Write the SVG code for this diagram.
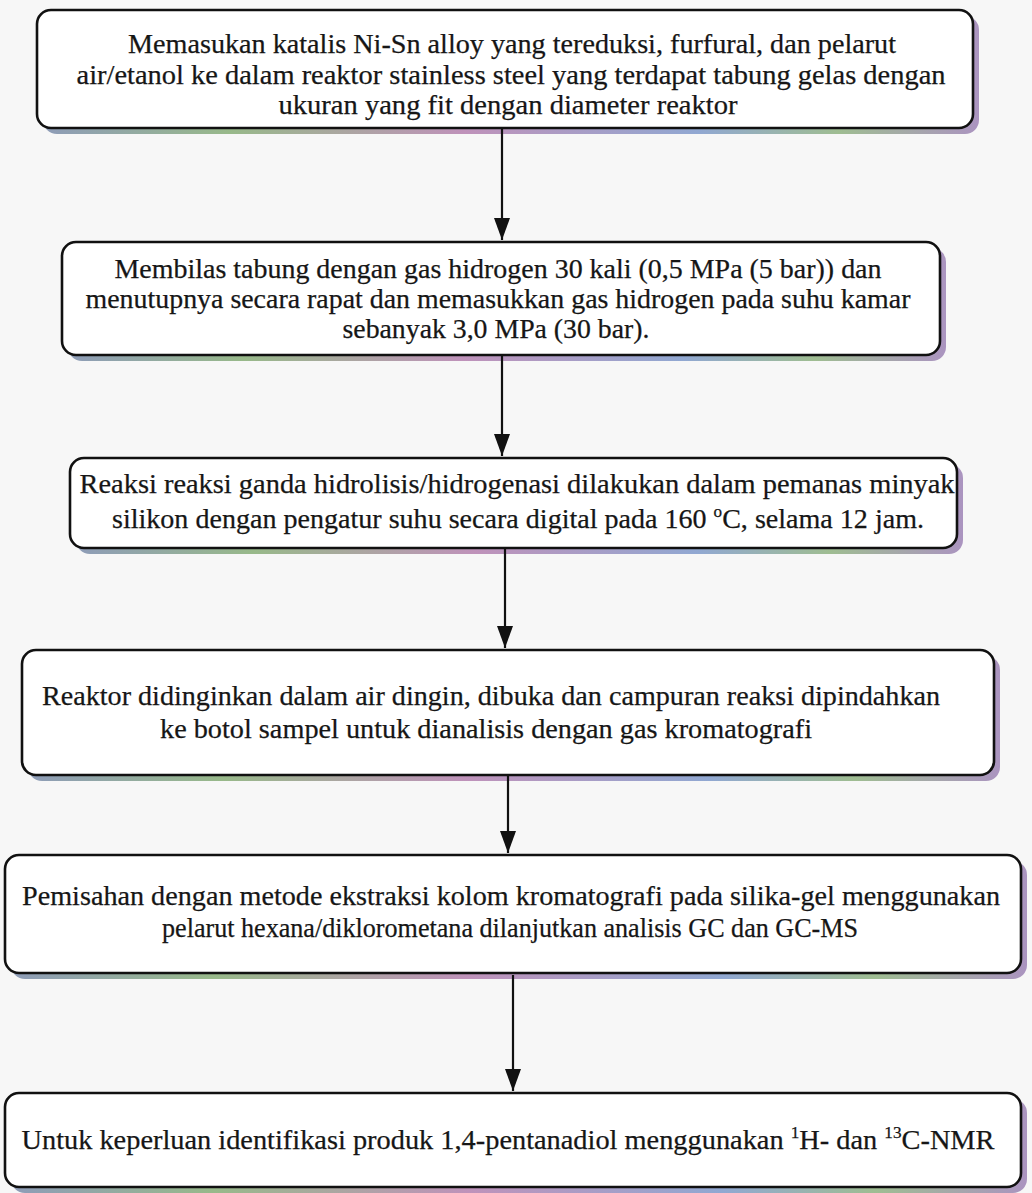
<svg xmlns="http://www.w3.org/2000/svg" width="1032" height="1193" viewBox="0 0 1032 1193">
<style>
.box{fill:#ffffff;stroke:#111111;stroke-width:2.6}
.sh{fill:url(#shg)}
.t{font-family:"Liberation Serif","Times New Roman",serif;font-size:28px;fill:#161616;stroke:#161616;stroke-width:0.25;text-anchor:middle}
.c{font-size:28px}
.conn line{stroke:#111111;stroke-width:2.2}
</style>
<defs>
<linearGradient id="shg" x1="0" y1="0" x2="1" y2="0">
<stop offset="0" stop-color="#8e9cb8"/>
<stop offset="0.2" stop-color="#98b98a"/>
<stop offset="0.45" stop-color="#bf92ba"/>
<stop offset="0.7" stop-color="#91a8d2"/>
<stop offset="0.85" stop-color="#9fbd92"/>
<stop offset="1" stop-color="#ab94c0"/>
</linearGradient>
<marker id="ah" viewBox="0 0 22 16" markerWidth="22" markerHeight="16" refX="22" refY="8" orient="auto" markerUnits="userSpaceOnUse">
<path d="M0,0 L22,8 L0,16 Z" fill="#111111"/>
</marker>
</defs>
<rect width="1032" height="1193" fill="#f7f7f7"/>

<g id="node1">
<rect class="sh" x="43" y="16" width="936" height="118" rx="14"/>
<rect class="box" x="37" y="10" width="936" height="118" rx="14"/>
<text class="t" x="512" y="53" textLength="768" lengthAdjust="spacingAndGlyphs">Memasukan katalis Ni-Sn alloy yang tereduksi, furfural, dan pelarut</text>
<text class="t" x="511" y="84" textLength="869" lengthAdjust="spacingAndGlyphs">air/etanol  ke dalam  reaktor stainless steel yang terdapat tabung gelas dengan</text>
<text class="t" x="508" y="114" textLength="459" lengthAdjust="spacingAndGlyphs">ukuran yang fit dengan diameter reaktor</text>
</g>

<g id="node2">
<rect class="sh" x="68" y="248" width="878" height="113" rx="14"/>
<rect class="box" x="62" y="242" width="878" height="113" rx="14"/>
<text class="t" x="498" y="278" textLength="767" lengthAdjust="spacingAndGlyphs">Membilas tabung dengan gas hidrogen 30 kali (0,5 MPa (5 bar)) dan</text>
<text class="t" x="498" y="308" textLength="825" lengthAdjust="spacingAndGlyphs">menutupnya secara rapat dan memasukkan gas hidrogen pada suhu kamar</text>
<text class="t" x="496" y="338" textLength="307" lengthAdjust="spacingAndGlyphs">sebanyak 3,0 MPa (30 bar).</text>
</g>

<g id="node3">
<rect class="sh" x="76" y="464" width="887" height="90" rx="14"/>
<rect class="box" x="70" y="458" width="887" height="90" rx="14"/>
<text class="t c" x="517" y="493" textLength="875" lengthAdjust="spacingAndGlyphs">Reaksi reaksi ganda hidrolisis/hidrogenasi  dilakukan dalam pemanas minyak</text>
<text class="t c" x="518" y="528" textLength="812" lengthAdjust="spacingAndGlyphs">silikon dengan pengatur suhu secara digital pada 160 <tspan font-size="17" dy="-11">o</tspan><tspan dy="11">C, selama 12 jam.</tspan></text>
</g>

<g id="node4">
<rect class="sh" x="28" y="656" width="972" height="125" rx="14"/>
<rect class="box" x="22" y="650" width="972" height="125" rx="14"/>
<text class="t" x="491" y="705" textLength="898" lengthAdjust="spacingAndGlyphs">Reaktor didinginkan dalam air dingin, dibuka dan campuran reaksi dipindahkan</text>
<text class="t" x="486" y="738" textLength="652" lengthAdjust="spacingAndGlyphs">ke botol sampel untuk dianalisis dengan gas kromatografi</text>
</g>

<g id="node5">
<rect class="sh" x="11" y="861" width="1016" height="118" rx="14"/>
<rect class="box" x="5" y="855" width="1016" height="118" rx="14"/>
<text class="t" x="511" y="905" textLength="978" lengthAdjust="spacingAndGlyphs">Pemisahan dengan metode ekstraksi kolom kromatografi pada silika-gel menggunakan</text>
<text class="t" x="510" y="937" textLength="696" lengthAdjust="spacingAndGlyphs">pelarut hexana/diklorometana dilanjutkan analisis GC dan GC-MS</text>
</g>

<g id="node6">
<rect class="sh" x="11" y="1099" width="1016" height="94" rx="14"/>
<rect class="box" x="5" y="1093" width="1016" height="94" rx="14"/>
<text class="t c" x="508" y="1149" textLength="973" lengthAdjust="spacingAndGlyphs">Untuk keperluan identifikasi produk 1,4-pentanadiol menggunakan <tspan font-size="17" dy="-11">1</tspan><tspan dy="11">H- dan </tspan><tspan font-size="17" dy="-11">13</tspan><tspan dy="11">C-NMR</tspan></text>
</g>

<g id="connectors" class="conn">
<line x1="502" y1="128" x2="502" y2="240" marker-end="url(#ah)"/>
<line x1="502" y1="355" x2="502" y2="456" marker-end="url(#ah)"/>
<line x1="505" y1="548" x2="505" y2="648" marker-end="url(#ah)"/>
<line x1="508" y1="775" x2="508" y2="853" marker-end="url(#ah)"/>
<line x1="513" y1="975" x2="513" y2="1091" marker-end="url(#ah)"/>
</g>
</svg>
